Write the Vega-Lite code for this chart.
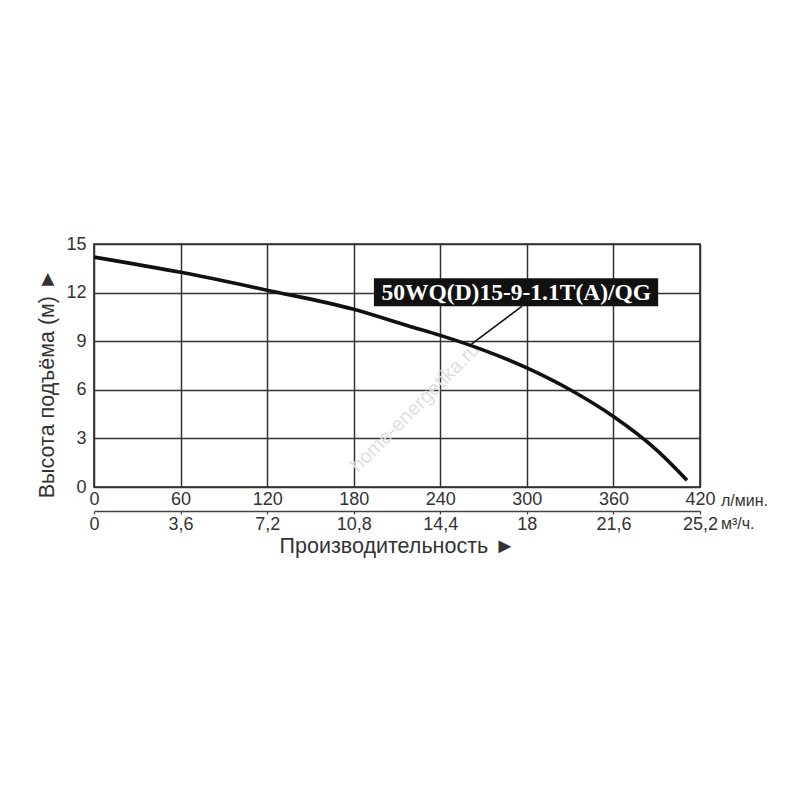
{
  "$schema": "https://vega.github.io/schema/vega-lite/v6.json",
  "autosize": "none",
  "padding": {"left": 94, "top": 244, "right": 100, "bottom": 313},
  "width": 606,
  "height": 243,
  "background": "white",
  "config": {
    "font": "Liberation Sans",
    "view": {"stroke": "#262626", "strokeWidth": 1.6},
    "axis": {"labelFont": "Liberation Sans", "titleFont": "Liberation Sans", "labelColor": "#333", "titleColor": "#333", "labelFontSize": 18, "titleFontSize": 21.5, "titleFontWeight": "normal"}
  },
  "datasets": {
    "curve": [
      {"q": 0, "h": 14.19},
      {"q": 60, "h": 13.25},
      {"q": 120, "h": 12.15},
      {"q": 180, "h": 10.97},
      {"q": 218, "h": 9.94},
      {"q": 240, "h": 9.36},
      {"q": 270, "h": 8.45},
      {"q": 300, "h": 7.35},
      {"q": 330, "h": 6.0},
      {"q": 360, "h": 4.35},
      {"q": 390, "h": 2.28},
      {"q": 411, "h": 0.42}
    ],
    "label": [
      {"x1": 194, "x2": 391, "y1": 11.16, "y2": 12.89, "tx": 292.7, "ty": 12.03, "lx1": 296.7, "ly1": 11.16, "lx2": 261.4, "ly2": 8.8, "name": "50WQ(D)15-9-1.1T(A)/QG"}
    ],
    "units": [
      {"x": 420, "y": 0, "unit": "л/мин.", "row": "top"},
      {"x": 420, "y": 0, "unit": "м³/ч.", "row": "bottom"}
    ],
    "mark": [
      {"x": 222.6, "y": 4.9, "text": "home-energetika.ru"}
    ],
    "m3": [
      {"m": 0},
      {"m": 25.2}
    ]
  },
  "layer": [
    {
      "layer": [
        {
          "data": {"name": "mark"},
          "mark": {"type": "text", "angle": -45, "fontSize": 20, "color": "#e0e0e0", "align": "center", "baseline": "middle"},
          "encoding": {
            "x": {"field": "x", "type": "quantitative"},
            "y": {"field": "y", "type": "quantitative"},
            "text": {"field": "text"}
          }
        },
        {
          "data": {"name": "curve"},
          "mark": {"type": "line", "color": "#111", "strokeWidth": 3.6, "interpolate": "monotone"},
          "encoding": {
            "x": {
              "field": "q", "type": "quantitative",
              "scale": {"domain": [0, 420], "nice": false},
              "axis": {"orient": "bottom", "values": [0, 60, 120, 180, 240, 300, 360, 420], "grid": true, "gridColor": "#333", "gridWidth": 1.5, "gridOpacity": 1, "ticks": false, "domain": false, "labelPadding": 3, "labelFlush": false, "title": null}
            },
            "y": {
              "field": "h", "type": "quantitative",
              "scale": {"domain": [0, 15], "nice": false},
              "axis": {"values": [0, 3, 6, 9, 12, 15], "grid": true, "gridColor": "#333", "gridWidth": 1.5, "gridOpacity": 1, "ticks": false, "domain": false, "labelPadding": 8, "labelFlush": false, "title": "Высота подъёма (м) ►", "titleAngle": -90, "titleX": -47, "titleY": 139, "titleAlign": "center", "titleBaseline": "middle"}
            }
          }
        },
        {
          "data": {"name": "label"},
          "mark": {"type": "rule", "color": "#111", "strokeWidth": 1.6},
          "encoding": {
            "x": {"field": "lx1", "type": "quantitative"},
            "y": {"field": "ly1", "type": "quantitative"},
            "x2": {"field": "lx2"},
            "y2": {"field": "ly2"}
          }
        },
        {
          "data": {"name": "label"},
          "mark": {"type": "rect", "color": "#111"},
          "encoding": {
            "x": {"field": "x1", "type": "quantitative"},
            "x2": {"field": "x2"},
            "y": {"field": "y1", "type": "quantitative"},
            "y2": {"field": "y2"}
          }
        },
        {
          "data": {"name": "label"},
          "mark": {"type": "text", "font": "Liberation Serif", "fontWeight": "bold", "fontSize": 23.5, "color": "white", "align": "center", "baseline": "middle", "dy": 1},
          "encoding": {
            "x": {"field": "tx", "type": "quantitative"},
            "y": {"field": "ty", "type": "quantitative"},
            "text": {"field": "name"}
          }
        },
        {
          "data": {"name": "units"},
          "transform": [{"filter": "datum.row == 'top'"}],
          "mark": {"type": "text", "fontSize": 16, "color": "#333", "align": "left", "baseline": "middle", "dx": 21, "dy": 14},
          "encoding": {
            "x": {"field": "x", "type": "quantitative"},
            "y": {"field": "y", "type": "quantitative"},
            "text": {"field": "unit"}
          }
        },
        {
          "data": {"name": "units"},
          "transform": [{"filter": "datum.row == 'bottom'"}],
          "mark": {"type": "text", "fontSize": 16, "color": "#333", "align": "left", "baseline": "middle", "dx": 21, "dy": 37},
          "encoding": {
            "x": {"field": "x", "type": "quantitative"},
            "y": {"field": "y", "type": "quantitative"},
            "text": {"field": "unit"}
          }
        }
      ]
    },
    {
      "data": {"name": "m3"},
      "mark": {"type": "rule", "opacity": 0},
      "encoding": {
        "x": {
          "field": "m", "type": "quantitative",
          "scale": {"domain": [0, 25.2], "nice": false},
          "axis": {"orient": "bottom", "offset": 24, "values": [0, 3.6, 7.2, 10.8, 14.4, 18, 21.6, 25.2], "labelExpr": "replace(toString(datum.value), '.', ',')", "grid": false, "domain": true, "domainColor": "#444", "domainWidth": 1.3, "ticks": true, "tickColor": "#444", "tickSize": 3, "tickWidth": 1.3, "labelPadding": 1, "labelFlush": false, "title": "Производительность ►", "titlePadding": 2}
        }
      }
    }
  ],
  "resolve": {"scale": {"x": "independent"}}
}
